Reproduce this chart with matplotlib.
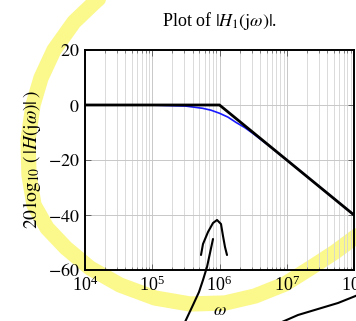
import numpy as np
import matplotlib
matplotlib.use("Agg")
import matplotlib.pyplot as plt
from matplotlib.lines import Line2D
from matplotlib.ticker import LogLocator, NullFormatter

plt.rcParams['font.family'] = ['Liberation Serif', 'DejaVu Serif']
plt.rcParams['mathtext.fontset'] = 'stix'

# magnitude of H1(jw) (log10 of omega, dB)
log_omega = [4.0, 5.0, 5.5, 5.75, 5.875, 6.0, 6.125, 6.25, 6.375, 6.5, 6.75, 7.0, 7.5, 8.0]
mag_db = [0.0, -0.04, -0.4, -1.2, -1.9, -3.0, -4.4, -6.4, -8.2, -10.4, -15.1, -20.0, -30.0, -40.0]

# straight-line asymptote
asym_omega = [1e4, 1e6, 1e8]
asym_db = [0, 0, -40]

x_limits = (1e4, 1e8)
y_limits = (-60, 20)
y_ticks = [-60, -40, -20, 0, 20]

# hand drawn marks on top of the picture, in pixels of the 356x321 image
W, H = 356, 321
highlight_main = [(114, -14), (96, 1), (74, 22), (54, 50), (41, 78), (33, 105), (28, 140), (29, 175),
                  (34, 205), (47, 228), (66, 248), (90, 268), (120, 285), (155, 298), (190, 304),
                  (225, 303), (255, 296), (285, 284), (312, 267), (335, 252), (362, 232)]
highlight_top = [(124, -9), (142, -1), (163, -8)]
pen_hook = [(201, 255), (203, 244), (208, 232), (213, 223), (217, 220), (221, 224), (223, 236),
            (225, 247), (227, 255)]
pen_stem = [(213, 239), (210, 253), (207, 267), (203, 280), (199, 292), (193, 305), (185, 322)]
pen_curve = [(282, 322), (298, 315), (318, 309), (338, 303), (358, 295)]

fig = plt.figure(figsize=(3.56, 3.21), dpi=100)
fig.patch.set_facecolor('white')
ax = fig.add_axes([85 / W, 1 - 270 / H, 269 / W, 220 / H])
ax.set_facecolor('none')


def to_fig(points):
    xs = [p[0] / W for p in points]
    ys = [1 - p[1] / H for p in points]
    return xs, ys


# highlighter goes under the axes
hx, hy = to_fig(highlight_main)
fig.add_artist(Line2D(hx, hy, transform=fig.transFigure, color='#fbf88c', lw=11,
                      solid_capstyle='round', solid_joinstyle='round', zorder=-5))
hx, hy = to_fig(highlight_top)
fig.add_artist(Line2D(hx, hy, transform=fig.transFigure, color='#fbf88c', lw=11,
                      solid_capstyle='round', zorder=-5))

ax.plot(np.power(10.0, log_omega), mag_db, color='#1a1aff', lw=1.2, zorder=3)
ax.plot(asym_omega, asym_db, color='black', lw=2.0, zorder=4, solid_joinstyle='miter')

ax.set_xscale('log')
ax.set_xlim(*x_limits)
ax.set_ylim(*y_limits)
ax.set_yticks(y_ticks)
ax.set_yticklabels(['$-60$', '$-40$', '$-20$', '$0$', '$20$'])
ax.xaxis.set_major_locator(LogLocator(base=10, numticks=10))
ax.xaxis.set_minor_locator(LogLocator(base=10, subs=np.arange(2, 10), numticks=20))
ax.xaxis.set_minor_formatter(NullFormatter())

ax.grid(True, which='major', color='#c8c8c8', lw=0.7)
ax.grid(True, which='minor', axis='x', color='#d4d4d4', lw=0.6)
ax.set_axisbelow(True)
ax.tick_params(which='both', direction='in', top=True, right=True, labelsize=13,
               color='#555555', pad=4)
ax.tick_params(which='major', length=4, width=0.6)
ax.tick_params(which='minor', length=2, width=0.5)
for s in ax.spines.values():
    s.set_linewidth(1.4)
    s.set_zorder(5)

ax.set_title(r'Plot of $|H_1(\mathrm{j}\omega)|$.', fontsize=13, pad=17)
ax.set_xlabel(r'$\omega$', fontsize=13, labelpad=5)
ax.set_ylabel(r'$20\,\log_{10}\,(\,|H(\mathrm{j}\omega)|\,)$', fontsize=14, labelpad=3)

# pen strokes above everything
for pts in (pen_hook, pen_stem, pen_curve):
    px, py = to_fig(pts)
    fig.add_artist(Line2D(px, py, transform=fig.transFigure, color='black', lw=1.5,
                          solid_capstyle='round', solid_joinstyle='round', zorder=10))

fig.savefig('out.png', dpi=100)
